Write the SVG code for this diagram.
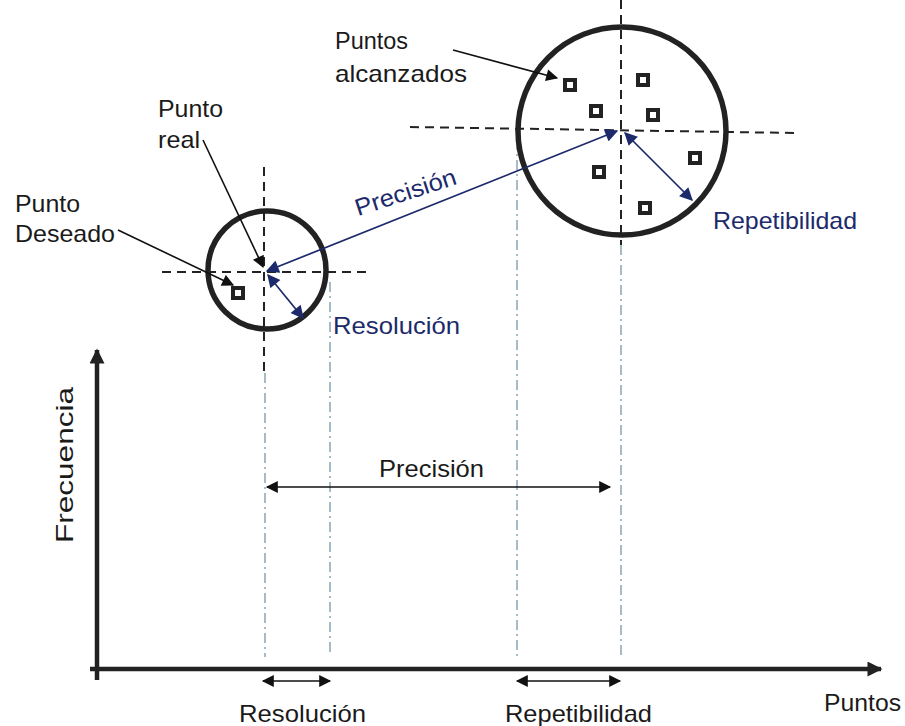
<svg xmlns="http://www.w3.org/2000/svg" width="905" height="726" viewBox="0 0 905 726">
<style>
text{font-family:"Liberation Sans",Arial,sans-serif;font-size:24px;fill:#1a1a1a}
.nv{fill:#1c2a6b}
.cir{fill:none;stroke:#222;stroke-width:5.5}
.dash{stroke:#222;stroke-width:2;stroke-dasharray:9 6;fill:none}
.dd{stroke:#9db4c0;stroke-width:1.8;stroke-dasharray:10 4 2 4;fill:none}
.sq{fill:none;stroke:#222;stroke-width:4}
.blk{stroke:#111;stroke-width:1.6;fill:none}
.navy{stroke:#1c2a6b;stroke-width:1.7;fill:none}
.axis{stroke:#222;stroke-width:4.5;fill:none}
</style>
<defs>
<marker id="ab" viewBox="0 0 10 10" refX="9" refY="5" markerWidth="14" markerHeight="12" markerUnits="userSpaceOnUse" orient="auto-start-reverse"><path d="M0,0 L10,5 L0,10 z" fill="#111"/></marker>
<marker id="an" viewBox="0 0 10 10" refX="9" refY="5" markerWidth="15" markerHeight="13" markerUnits="userSpaceOnUse" orient="auto-start-reverse"><path d="M0,0 L10,5 L0,10 z" fill="#1c2a6b"/></marker>
<marker id="ax" viewBox="0 0 10 10" refX="9" refY="5" markerWidth="18" markerHeight="15" markerUnits="userSpaceOnUse" orient="auto"><path d="M0,0 L10,5 L0,10 z" fill="#222"/></marker>
</defs>

<g id="guides">
<line class="dd" x1="265" y1="373" x2="265" y2="657"/>
<line class="dd" x1="330" y1="282" x2="330" y2="652"/>
<line class="dd" x1="517" y1="140" x2="517" y2="657"/>
<line class="dd" x1="621" y1="245" x2="621" y2="658"/>
<line class="dash" x1="264" y1="167" x2="264" y2="373"/>
<line class="dash" x1="162" y1="272" x2="367" y2="272"/>
<line class="dash" x1="621" y1="0" x2="621" y2="245"/>
<line class="dash" x1="410" y1="127" x2="795" y2="133"/>
</g>

<g id="circle-small"><circle class="cir" cx="267" cy="270" r="59"/><rect class="sq" x="233" y="288" width="10" height="10"/></g>
<g id="circle-large">
<circle class="cir" cx="622" cy="131" r="104"/>
<rect class="sq" x="565" y="80" width="10" height="10"/>
<rect class="sq" x="591" y="106" width="10" height="10"/>
<rect class="sq" x="638" y="75" width="10" height="10"/>
<rect class="sq" x="648" y="110" width="10" height="10"/>
<rect class="sq" x="690" y="153" width="10" height="10"/>
<rect class="sq" x="594" y="167" width="10" height="10"/>
<rect class="sq" x="640" y="203" width="10" height="10"/>
</g>

<g id="axes">
<line class="axis" x1="97" y1="680" x2="97" y2="350" marker-end="url(#ax)"/>
<line class="axis" x1="90" y1="669" x2="881" y2="669" marker-end="url(#ax)"/>
</g>

<g id="connectors">
<line class="navy" x1="267" y1="271" x2="617" y2="131" marker-start="url(#an)" marker-end="url(#an)"/>
<line class="navy" x1="268" y1="275" x2="303" y2="318" marker-start="url(#an)" marker-end="url(#an)"/>
<line class="navy" x1="625" y1="133" x2="692" y2="200" marker-start="url(#an)" marker-end="url(#an)"/>
<line class="blk" x1="203" y1="140" x2="263" y2="267" marker-end="url(#ab)"/>
<line class="blk" x1="118" y1="230" x2="233" y2="285" marker-end="url(#ab)"/>
<line class="blk" x1="453" y1="50" x2="557" y2="78" marker-end="url(#ab)"/>
<line class="blk" x1="267" y1="487" x2="610" y2="487" marker-start="url(#ab)" marker-end="url(#ab)"/>
<line class="blk" x1="263" y1="681" x2="330" y2="681" marker-start="url(#ab)" marker-end="url(#ab)"/>
<line class="blk" x1="517" y1="681" x2="620" y2="681" marker-start="url(#ab)" marker-end="url(#ab)"/>
</g>

<g id="labels">
<text x="335" y="49" textLength="73" lengthAdjust="spacingAndGlyphs">Puntos</text>
<text x="335" y="82" textLength="132" lengthAdjust="spacingAndGlyphs">alcanzados</text>
<text x="158" y="117" textLength="65" lengthAdjust="spacingAndGlyphs">Punto</text>
<text x="158" y="148" textLength="42" lengthAdjust="spacingAndGlyphs">real</text>
<text x="15" y="212" textLength="65" lengthAdjust="spacingAndGlyphs">Punto</text>
<text x="15" y="242" textLength="100" lengthAdjust="spacingAndGlyphs">Deseado</text>
<text class="nv" x="408" y="200" text-anchor="middle" transform="rotate(-18 408 200)" textLength="105" lengthAdjust="spacingAndGlyphs">Precisión</text>
<text class="nv" x="333" y="334" textLength="127" lengthAdjust="spacingAndGlyphs">Resolución</text>
<text class="nv" x="713" y="229" textLength="144" lengthAdjust="spacingAndGlyphs">Repetibilidad</text>
<text x="73" y="465" text-anchor="middle" transform="rotate(-90 73 465)" textLength="156" lengthAdjust="spacingAndGlyphs">Frecuencia</text>
<text x="379" y="477" textLength="105" lengthAdjust="spacingAndGlyphs">Precisión</text>
<text x="239" y="722" textLength="127" lengthAdjust="spacingAndGlyphs">Resolución</text>
<text x="505" y="722" textLength="147" lengthAdjust="spacingAndGlyphs">Repetibilidad</text>
<text x="824" y="711" textLength="77" lengthAdjust="spacingAndGlyphs">Puntos</text>
</g>
</svg>
